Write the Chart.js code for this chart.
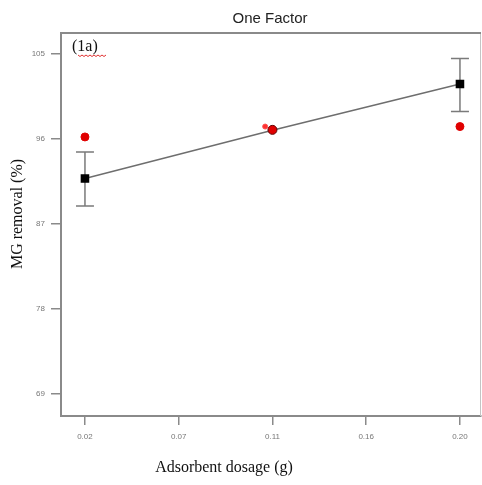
<!DOCTYPE html>
<html>
<head>
<meta charset="utf-8">
<script src="https://cdn.jsdelivr.net/npm/chart.js@4.4.1/dist/chart.umd.min.js"></script>
<style>
  html, body { margin: 0; padding: 0; background: #fff; }
  #wrap { width: 482px; height: 485px; }
</style>
</head>
<body>
<div id="wrap"><canvas id="chart" width="482" height="485"></canvas></div>
<script>
// One Factor plot - MG removal vs adsorbent dosage

var dosage = [0.02, 0.11, 0.20];
var predicted = [91.8, 96.9, 101.8];
var errLow = [88.9, null, 98.9];
var errHigh = [94.6, null, 104.5];

var actualDosage = [0.02, 0.1065, 0.11, 0.20];
var actualRemoval = [96.2, 97.3, 96.95, 97.3];

var yTicks = [69, 78, 87, 96, 105];
var xTicks = [0.02, 0.065, 0.11, 0.155, 0.20];
var xTickLabels = ['0.02', '0.07', '0.11', '0.16', '0.20'];

// Error bars, frame and text drawn over the chart
var decorPlugin = {
    id: 'decor',
    beforeDatasetsDraw: function (chart) {
        var ctx = chart.ctx;
        var xs = chart.scales.x, ys = chart.scales.y;
        ctx.save();
        ctx.strokeStyle = '#7a7a7a';
        ctx.lineWidth = 1.5;
        for (var i = 0; i < dosage.length; i++) {
            if (errLow[i] === null) continue;
            var px = xs.getPixelForValue(dosage[i]);
            var yl = ys.getPixelForValue(errLow[i]);
            var yh = ys.getPixelForValue(errHigh[i]);
            ctx.beginPath();
            ctx.moveTo(px, yl); ctx.lineTo(px, yh);
            ctx.moveTo(px - 9, yl); ctx.lineTo(px + 9, yl);
            ctx.moveTo(px - 9, yh); ctx.lineTo(px + 9, yh);
            ctx.stroke();
        }
        ctx.restore();
    },
    afterDraw: function (chart) {
        var ctx = chart.ctx;
        var a = chart.chartArea;
        ctx.save();
        // top and right frame
        ctx.strokeStyle = '#c4c4c4';
        ctx.lineWidth = 1;
        ctx.beginPath();
        ctx.moveTo(a.right - 0.5, a.top);
        ctx.lineTo(a.right - 0.5, a.bottom);
        ctx.stroke();
        ctx.strokeStyle = '#8a8a8a';
        ctx.lineWidth = 2;
        ctx.beginPath();
        ctx.moveTo(a.left, a.top);
        ctx.lineTo(a.right, a.top);
        ctx.stroke();

        // title
        ctx.fillStyle = '#222';
        ctx.textAlign = 'center';
        ctx.textBaseline = 'middle';
        ctx.font = '15px "Liberation Sans Narrow", "Liberation Sans", Arial, sans-serif';
        ctx.fillText('One Factor', 270, 19);

        // axis titles
        ctx.font = '16px "Liberation Serif", "Times New Roman", serif';
        ctx.fillStyle = '#111';
        ctx.fillText('Adsorbent dosage (g)', 224, 468);
        ctx.save();
        ctx.translate(18, 214);
        ctx.rotate(-Math.PI / 2);
        ctx.fillText('MG removal (%)', 0, 0);
        ctx.restore();

        // panel label
        ctx.textAlign = 'left';
        ctx.fillText('(1a)', 72, 47);
        ctx.strokeStyle = '#e03030';
        ctx.lineWidth = 1;
        ctx.beginPath();
        for (var k = 0; k <= 14; k++) {
            var wx = 78 + k * 2;
            var wy = 55 + (k % 2 === 0 ? 0 : 1.5);
            if (k === 0) ctx.moveTo(wx, wy); else ctx.lineTo(wx, wy);
        }
        ctx.stroke();
        ctx.restore();
    }
};

var ctx = document.getElementById('chart').getContext('2d');
new Chart(ctx, {
    type: 'scatter',
    data: {
        datasets: [
            {
                label: 'Actual',
                data: actualDosage.map(function (x, i) { return { x: x, y: actualRemoval[i] }; }),
                pointStyle: 'circle',
                pointRadius: [4, 2.5, 4.5, 4],
                backgroundColor: ['#e00000', '#ff3030', '#e00000', '#e00000'],
                borderColor: ['#e00000', '#ff5050', '#600000', '#e00000'],
                borderWidth: 1,
                order: 0
            },
            {
                label: 'Predicted',
                data: dosage.map(function (x, i) { return { x: x, y: predicted[i] }; }),
                showLine: true,
                borderColor: '#6e6e6e',
                borderWidth: 1.5,
                pointStyle: 'rect',
                pointRadius: [5, 0, 5],
                pointBackgroundColor: '#000',
                pointBorderColor: '#000',
                order: 1
            }
        ]
    },
    options: {
        responsive: false,
        animation: false,
        layout: { padding: { top: 33, right: 1, left: 0, bottom: 0 } },
        plugins: {
            legend: { display: false },
            tooltip: { enabled: false }
        },
        scales: {
            x: {
                type: 'linear',
                min: 0.0085,
                max: 0.2101,
                afterFit: function (s) { s.height = 69; s.paddingLeft = 0; s.paddingRight = 0; },
                afterBuildTicks: function (s) {
                    s.ticks = xTicks.map(function (v) { return { value: v }; });
                },
                grid: {
                    drawOnChartArea: false,
                    drawTicks: true,
                    tickLength: 9,
                    color: '#8a8a8a',
                    lineWidth: 1.5
                },
                border: { display: true, color: '#8a8a8a', width: 2 },
                ticks: {
                    padding: 7,
                    maxRotation: 0,
                    color: '#777',
                    font: { size: 8, family: '"Liberation Sans Narrow", "Liberation Sans", Arial' },
                    callback: function (v, i) { return xTickLabels[i]; }
                }
            },
            y: {
                type: 'linear',
                min: 66.67,
                max: 107.2,
                afterFit: function (s) { s.width = 61; },
                afterBuildTicks: function (s) {
                    s.ticks = yTicks.map(function (v) { return { value: v }; });
                },
                grid: {
                    drawOnChartArea: false,
                    drawTicks: true,
                    tickLength: 10,
                    color: '#8a8a8a',
                    lineWidth: 1.5
                },
                border: { display: true, color: '#8a8a8a', width: 2 },
                ticks: {
                    padding: 6,
                    color: '#777',
                    font: { size: 8, family: '"Liberation Sans Narrow", "Liberation Sans", Arial' }
                }
            }
        }
    },
    plugins: [decorPlugin, {
        id: 'areaFix',
        afterLayout: function (chart) {
            // pin the plot area to the reference frame
            var a = chart.chartArea;
            a.right = 481;
            a.width = a.right - a.left;
            var xs = chart.scales.x;
            xs.right = 481;
            xs.width = xs.right - xs.left;
            xs.configure();
        }
    }]
});
</script>
</body>
</html>
